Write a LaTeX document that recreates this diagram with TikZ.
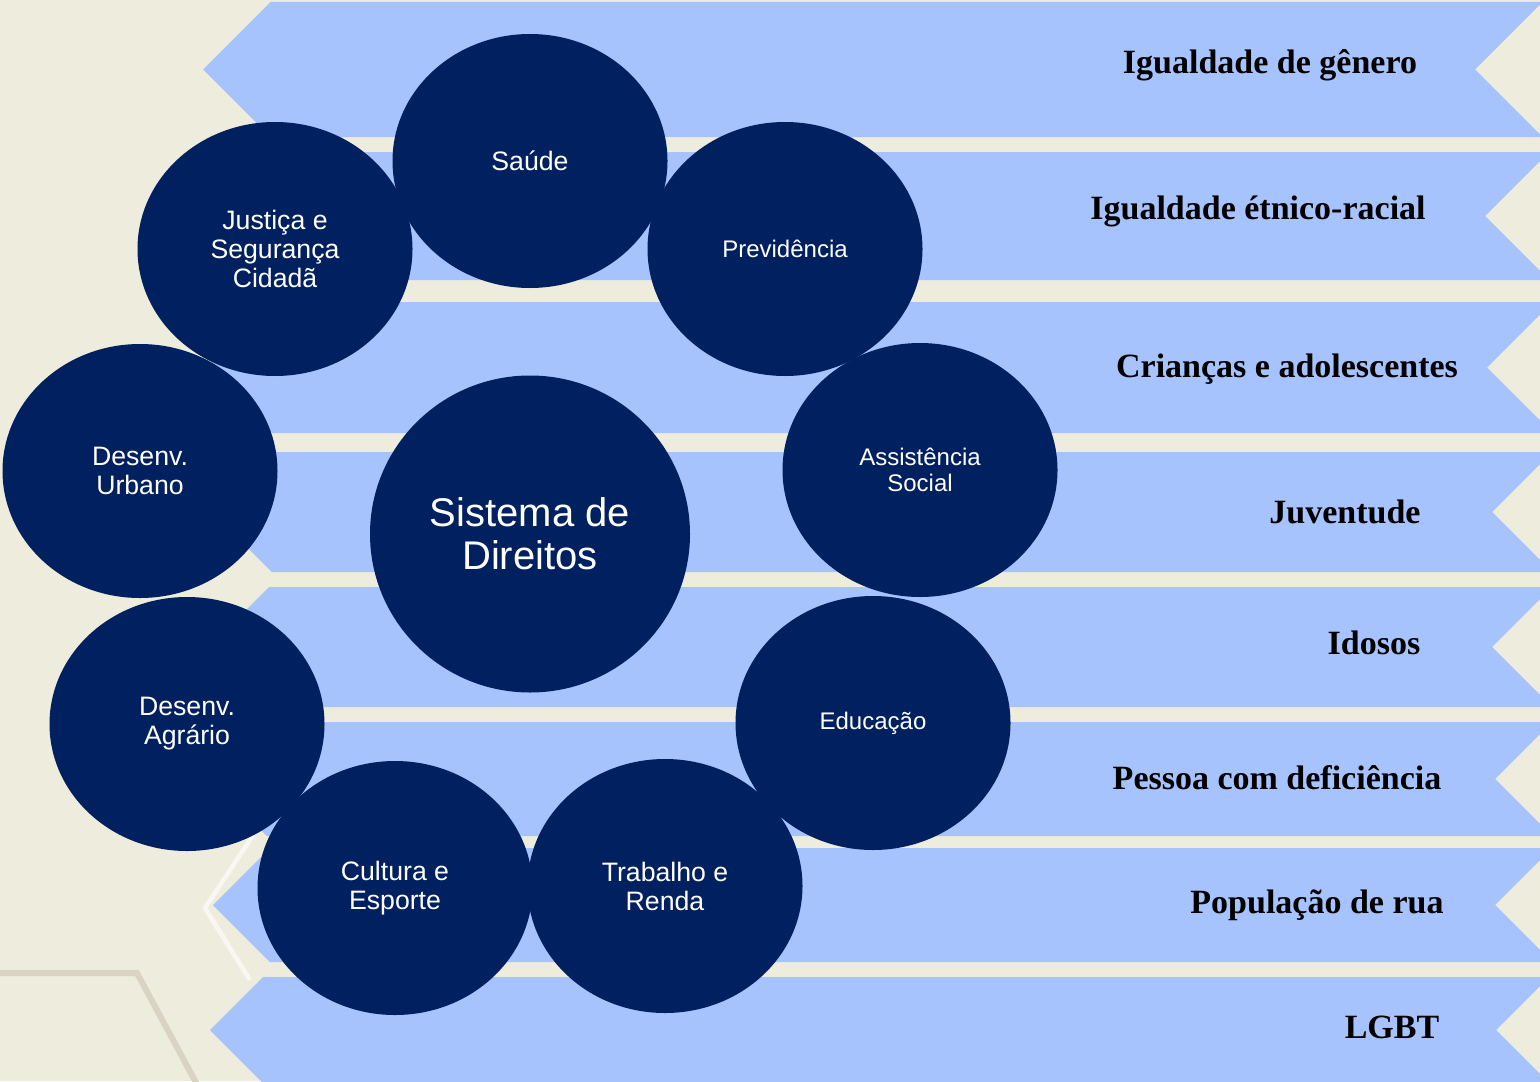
\documentclass[tikz,border=0pt]{standalone}
\usepackage{fontspec}
\setmainfont{Liberation Serif}
\setsansfont{Liberation Sans}
\usetikzlibrary{shapes.geometric}

\definecolor{fundo}{HTML}{EEECDC}
\definecolor{faixa}{HTML}{A6C3FD}
\definecolor{marinho}{HTML}{002060}
\definecolor{hexclaro}{HTML}{F8F7F1}
\definecolor{hexescuro}{HTML}{D9D3C4}

\tikzset{
  tema/.style={ellipse, fill=marinho, text=white, inner sep=0pt,
    minimum width=206.25pt, minimum height=190.5pt, align=center,
    font=\sffamily\fontsize{20}{21.75}\selectfont},
  temamenor/.style={tema, font=\sffamily\fontsize{18}{19.5}\selectfont},
  rotulo/.style={anchor=base, font=\fontsize{25.5}{28}\selectfont\bfseries},
}

\begin{document}
\begin{tikzpicture}[x=0.75pt, y=-0.75pt]
    % fundo
    \clip (0,0) rectangle (1540,1081);
    \fill[fundo] (0,0) rectangle (1540,1081);
    \draw[hexescuro, line width=4.5pt] (-10,973) -- (137,973) -- (200,1090);
    \draw[hexclaro, line width=3.5pt] (263,820) -- (205,908) -- (250,980);

    % faixas
    \foreach \ya/\yb/\xl/\xr/\xc/\yt/\txt [count=\i] in {
        2/137/203/1475/1270/74/Igualdade de gênero,
        152/280/205/1485/1258/219/Igualdade étnico-racial,
        302/433/207/1487/1287/377/Crianças e adolescentes,
        452/572/212/1492/1345/523/Juventude,
        587/707/209/1492/1374/654/Idosos,
        722/836/210/1495/1277/789/Pessoa com deficiência,
        848/962/213/1495/1317/913/População de rua,
        977/1083/210/1496/1392/1038/LGBT} {
        \pgfmathsetmacro\ym{(\ya+\yb)/2}
        \pgfmathsetmacro\hh{(\yb-\ya)/2}
        \fill[faixa] (\xl,\ym) -- (\xl+\hh,\ya) -- (\xr+\hh,\ya) -- (\xr,\ym)
            -- (\xr+\hh,\yb) -- (\xl+\hh,\yb) -- cycle;
        \node[rotulo] (faixa\i) at (\xc,\yt) {\txt};
    }

    % temas
    \node[tema] (saude) at (530,161) {Saúde};
    \node[tema] (justica) at (275,249) {Justiça e\\Segurança\\Cidadã};
    \node[temamenor] (previdencia) at (785,249) {Previdência};
    \node[tema] (urbano) at (140,471) {Desenv.\\Urbano};
    \node[temamenor] (assistencia) at (920,470) {Assistência\\Social};
    \node[tema] (agrario) at (187,724) {Desenv.\\Agrário};
    \node[temamenor] (educacao) at (873,723) {Educação};
    \node[tema] (cultura) at (395,888) {Cultura e\\Esporte};
    \node[tema] (trabalho) at (665,886) {Trabalho e\\Renda};

    % centro
    \node[tema, minimum width=240pt, minimum height=237.75pt,
        font=\sffamily\fontsize{30}{32.25}\selectfont] (sistema) at (530,534) {Sistema de\\Direitos};
\end{tikzpicture}
\end{document}
